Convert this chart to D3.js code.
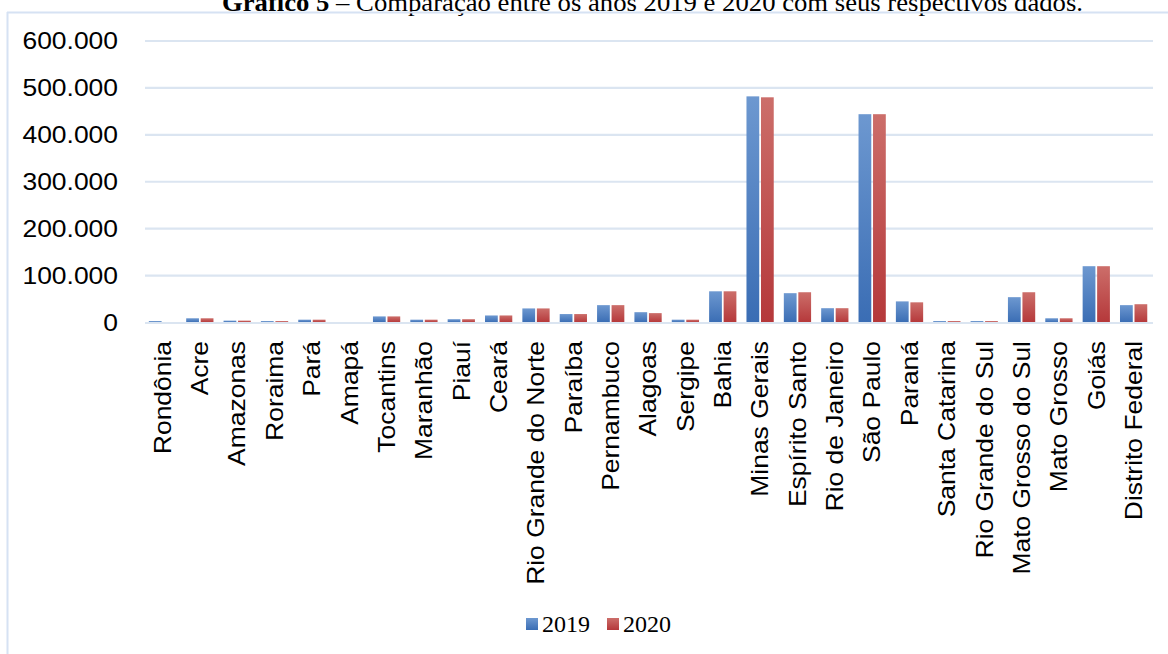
<!DOCTYPE html>
<html>
<head>
<meta charset="utf-8">
<script src="https://cdn.jsdelivr.net/npm/d3@7"></script>
<style>
  html, body { margin: 0; padding: 0; background: #fff; }
  svg { display: block; }
</style>
</head>
<body>
<svg id="chart" width="1168" height="654"></svg>
<script>
// Brazilian states, in the order they appear on the axis
const states = [
  "Rondônia", "Acre", "Amazonas", "Roraima", "Pará", "Amapá", "Tocantins",
  "Maranhão", "Piauí", "Ceará", "Rio Grande do Norte", "Paraíba", "Pernambuco",
  "Alagoas", "Sergipe", "Bahia", "Minas Gerais", "Espírito Santo",
  "Rio de Janeiro", "São Paulo", "Paraná", "Santa Catarina",
  "Rio Grande do Sul", "Mato Grosso do Sul", "Mato Grosso", "Goiás",
  "Distrito Federal"
];
const years = ["2019", "2020"];
const values2019 = [
  3000, 9000, 4000, 3000, 6000, 300, 13000,
  6000, 7000, 15000, 30000, 18000, 37000,
  22000, 6000, 66500, 482000, 62500,
  30500, 444000, 45000, 3000,
  3000, 54000, 9000, 120000,
  37000
];
const values2020 = [
  800, 9000, 4000, 3000, 6000, 300, 13000,
  6000, 7000, 15000, 30000, 18000, 37000,
  20000, 6000, 66500, 480000, 64500,
  30500, 444000, 43000, 3000,
  3000, 64500, 9000, 120000,
  39000
];
const yTicks = [0, 100000, 200000, 300000, 400000, 500000, 600000];

const svg = d3.select("#chart");
const frameColor = "#d6e2f3";
const gridColor = "#dbe5f1";

// gradients for the bars
const defs = svg.append("defs");
function grad(id, top, bottom) {
  const g = defs.append("linearGradient").attr("id", id)
    .attr("x1", 0).attr("y1", 0).attr("x2", 0).attr("y2", 1);
  g.append("stop").attr("offset", "0%").attr("stop-color", top);
  g.append("stop").attr("offset", "100%").attr("stop-color", bottom);
}
grad("g2019", "#6d98d0", "#3a6db4");
grad("g2020", "#cc6e6a", "#b5383a");
const fills = { "2019": "url(#g2019)", "2020": "url(#g2020)" };

// title (partly clipped by the top edge)
const title = svg.append("text")
  .attr("x", 222).attr("y", 11)
  .attr("font-family", "Liberation Serif, Times New Roman, serif")
  .attr("font-size", 26).attr("fill", "#000");
title.append("tspan").attr("font-weight", "bold").text("Gráfico 5");
title.append("tspan").text(" – Comparação entre os anos 2019 e 2020 com seus respectivos dados.");
title.attr("textLength", 861).attr("lengthAdjust", "spacingAndGlyphs");

// chart frame
svg.append("line").attr("x1", 7.5).attr("x2", 7.5).attr("y1", 12).attr("y2", 654)
  .attr("stroke", frameColor).attr("stroke-width", 2);
svg.append("line").attr("x1", 7).attr("x2", 1168).attr("y1", 12.5).attr("y2", 12.5)
  .attr("stroke", frameColor).attr("stroke-width", 2);

// scales
const x0 = d3.scaleBand().domain(states).range([143.8, 1152.3])
  .paddingInner(0.27).paddingOuter(0.135);
const x1 = d3.scaleBand().domain(years).range([0, x0.bandwidth()]).paddingInner(0.12);
const y = d3.scaleLinear().domain([0, 600000]).range([322.5, 41]);

const fmt = d => d3.format(",")(d).replace(/,/g, ".");
const sansFont = "Liberation Sans, Arial, sans-serif";

// gridlines
svg.append("g").selectAll("line").data(yTicks.filter(d => d > 0)).join("line")
  .attr("x1", 145).attr("x2", 1153)
  .attr("y1", d => y(d)).attr("y2", d => y(d))
  .attr("stroke", gridColor).attr("stroke-width", 2.2);

// y tick labels
svg.append("g").selectAll("text").data(yTicks).join("text")
  .attr("transform", d => `translate(118,${y(d)}) scale(1.15,1)`)
  .attr("dy", "0.36em")
  .attr("text-anchor", "end")
  .attr("font-family", sansFont).attr("font-size", 23).attr("fill", "#000")
  .text(fmt);

// bars
const rows = states.map((s, i) => ({ state: s, vals: { "2019": values2019[i], "2020": values2020[i] } }));
const groups = svg.append("g").selectAll("g").data(rows).join("g")
  .attr("transform", d => `translate(${x0(d.state)},0)`);
groups.selectAll("rect").data(d => years.map(k => ({ k, v: d.vals[k] }))).join("rect")
  .attr("x", d => x1(d.k))
  .attr("width", x1.bandwidth())
  .attr("y", d => y(d.v))
  .attr("height", d => y(0) - y(d.v))
  .attr("fill", d => fills[d.k]);

// category axis line
svg.append("line").attr("x1", 145).attr("x2", 1153)
  .attr("y1", y(0) + 0.4).attr("y2", y(0) + 0.4)
  .attr("stroke", gridColor).attr("stroke-width", 2);

// rotated category labels
svg.append("g").selectAll("text").data(states).join("text")
  .attr("transform", d => `translate(${x0(d) + x0.bandwidth() / 2},341) rotate(-90) scale(1.15,1)`)
  .attr("dy", "0.36em")
  .attr("text-anchor", "end")
  .attr("font-family", sansFont).attr("font-size", 23).attr("fill", "#000")
  .text(d => d);

// legend
const legend = svg.append("g");
const legendItems = [{ k: "2019", x: 526 }, { k: "2020", x: 607 }];
legend.selectAll("rect").data(legendItems).join("rect")
  .attr("x", d => d.x).attr("y", 618).attr("width", 12).attr("height", 12)
  .attr("fill", d => fills[d.k]);
legend.selectAll("text").data(legendItems).join("text")
  .attr("x", d => d.x + 16).attr("y", 632)
  .attr("font-family", "Liberation Serif, Times New Roman, serif")
  .attr("font-size", 24).attr("fill", "#000")
  .text(d => d.k);
</script>
</body>
</html>
